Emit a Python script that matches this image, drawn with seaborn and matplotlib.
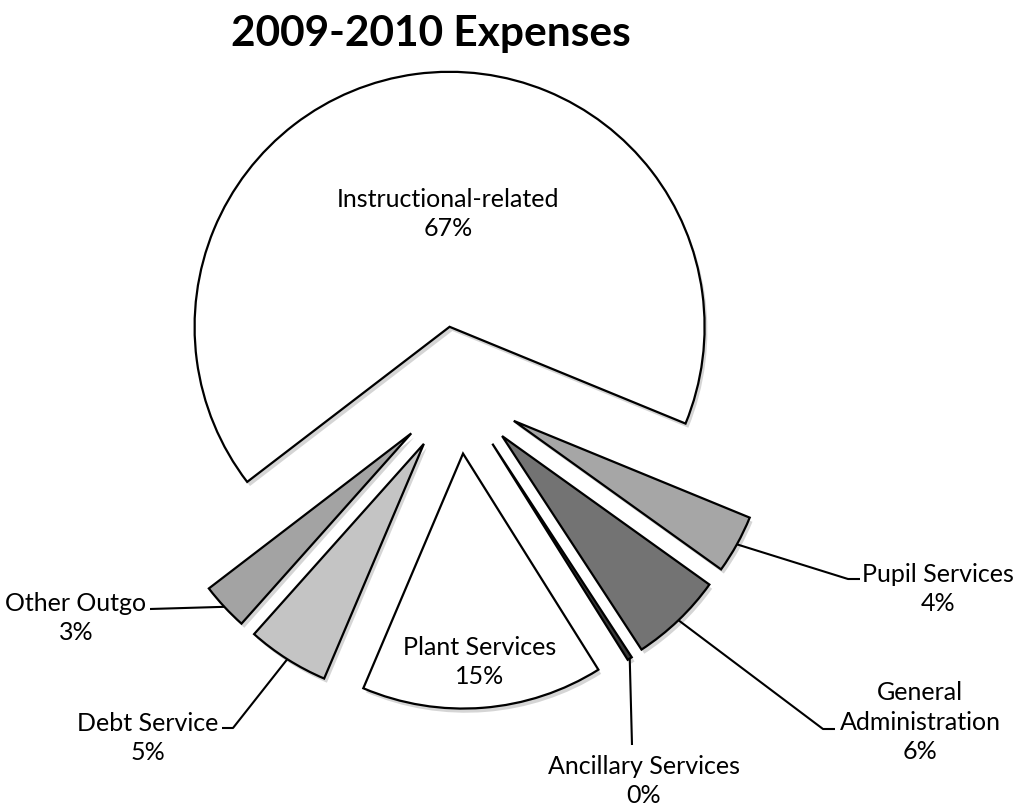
import matplotlib
matplotlib.use("Agg")
import matplotlib.pyplot as plt
import matplotlib.patheffects as pe
import numpy as np
import seaborn as sns

# slices in drawing order (counter-clockwise starting from the big one)
categories = ["Instructional-related", "Other Outgo", "Debt Service", "Plant Services",
              "Ancillary Services", "General\nAdministration", "Pupil Services"]
shares = [66.6, 3.0, 5.2, 15.3, 0.3, 5.9, 3.7]
colors = ["#ffffff", "#a3a3a3", "#c4c4c4", "#ffffff", "#3a3a3a", "#737373", "#a6a6a6"]

# label layout (pie radius units, pie centre at 0,0): text centre, leader elbow, leader end
PX = 255.0
CX, CY = 458.0, 390.0


def px(x, y):
    return ((x - CX) / PX, (CY - y) / PX)


label_pos = {
    "Instructional-related": (px(448, 214), None, None),
    "Other Outgo": (px(76, 618), None, px(150, 609)),
    "Debt Service": (px(148, 738), px(233, 728), px(222, 728)),
    "Plant Services": (px(480, 662), None, None),
    "Ancillary Services": (px(644, 781), None, px(632, 745)),
    "General\nAdministration": (px(920, 722), px(823, 729), px(835, 729)),
    "Pupil Services": (px(938, 589), px(848, 579), px(860, 579)),
}


def main():
    sns.set_theme(style="white")
    plt.rcParams["font.family"] = ["Lato", "DejaVu Sans"]

    fig = plt.figure(figsize=(10.16, 8.10), dpi=100)
    ax = fig.add_axes([0, 0, 1, 1])

    shadow = [pe.SimplePatchShadow(offset=(2, -3), shadow_rgbFace="#888888", alpha=0.35), pe.Normal()]
    wedges, _ = ax.pie(shares, explode=[0.25] * len(shares), startangle=-22.3, counterclock=True,
                       colors=colors, radius=1.0,
                       wedgeprops=dict(edgecolor="black", linewidth=1.6))
    for w in wedges:
        w.set_path_effects(shadow)

    for w, name, val in zip(wedges, categories, shares):
        text_xy, elbow, end = label_pos[name]
        label = f"{name}\n{int(round(val))}%"
        ax.text(text_xy[0], text_xy[1], label, ha="center", va="center",
                fontsize=18, color="black", linespacing=1.35)
        if end is None:
            continue
        mid = np.deg2rad((w.theta1 + w.theta2) / 2)
        ax0 = w.center[0] + w.r * np.cos(mid)
        ay0 = w.center[1] + w.r * np.sin(mid)
        xs = [ax0] + ([elbow[0]] if elbow else []) + [end[0]]
        ys = [ay0] + ([elbow[1]] if elbow else []) + [end[1]]
        ax.plot(xs, ys, color="black", lw=1.5, solid_capstyle="butt")

    ax.set_xlim(-CX / PX, (1016 - CX) / PX)
    ax.set_ylim(-(810 - CY) / PX, CY / PX)
    ax.set_aspect("auto")
    ax.axis("off")

    fig.text(431 / 1016, 1 - 34 / 810, "2009-2010 Expenses", ha="center", va="center",
             fontsize=30.5, fontweight="bold", color="black")

    fig.savefig("out.png", dpi=100, facecolor="white")


if __name__ == "__main__":
    main()
